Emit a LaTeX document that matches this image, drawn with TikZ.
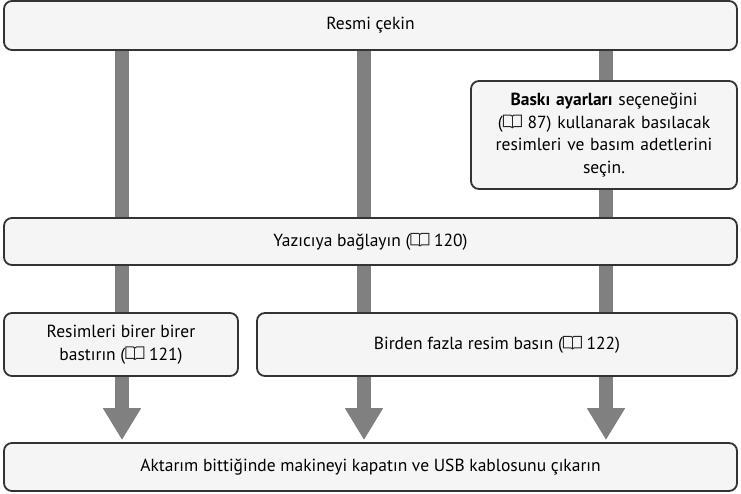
\documentclass[tikz,border=0pt]{standalone}
\usepackage{fontspec}
\setmainfont{PT Sans}
\usetikzlibrary{arrows.meta,backgrounds}
% small open-book sign used for page references
\newcommand{\kitap}{\tikz[baseline=-0.5pt,x=1.2pt,y=1.15pt,line width=1pt,sharp corners]{%
  \draw[black!85] (0,1) -- (0,11) -- (6,11) .. controls (7.2,11) .. (7.5,10) .. controls (7.8,11) .. (9,11) -- (15,11) -- (15,1) -- (9,1) .. controls (8,1) .. (7.5,0) .. controls (7,1) .. (6,1) -- cycle;
  \draw[black!85] (7.5,0.5) -- (7.5,10);}}
\begin{document}
\begin{tikzpicture}[x=1pt,y=-1pt,
    kutu/.style={draw=black!80,line width=1.8pt,fill=gray!8,rounded corners=8pt,
      inner sep=0pt,align=center,font=\fontsize{17.5}{22.5}\selectfont},
    ok/.style={draw=gray,line width=14pt,-{Triangle[width=36pt,length=32pt]},shorten >=2pt}]
  \useasboundingbox (0,0) rectangle (741,493);
  \coordinate (s1) at (122,0);
  \coordinate (s2) at (364,0);
  \coordinate (s3) at (606,0);
  \node[kutu,minimum width=733pt,minimum height=49pt] (cek) at (370.5,25.5) {Resmi çekin};
  \node[kutu,minimum width=266pt,minimum height=108pt,text width=260pt] (bask) at (604,135)
    {\textbf{Baskı ayarları} seçeneğini\\(\kitap{} 87) kullanarak basılacak\\resimleri ve basım adetlerini\\seçin.};
  \node[kutu,minimum width=733pt,minimum height=47pt] (yaz) at (370.5,241.5) {Yazıcıya bağlayın (\kitap{} 120)};
  \node[kutu,minimum width=234pt,minimum height=63pt] (tek) at (121,344.5) {Resimleri birer birer\\bastırın (\kitap{} 121)};
  \node[kutu,minimum width=480pt,minimum height=63pt] (cok) at (497,344.5) {Birden fazla resim basın (\kitap{} 122)};
  \node[kutu,minimum width=733pt,minimum height=48pt] (akt) at (370.5,467) {Aktarım bittiğinde makineyi kapatın ve USB kablosunu çıkarın};
  \begin{scope}[on background layer]
    \draw[ok] (cek.south -| s1) -- (akt.north -| s1);
    \draw[ok] (cek.south -| s2) -- (akt.north -| s2);
    \draw[ok] (cek.south -| s3) -- (akt.north -| s3);
  \end{scope}
\end{tikzpicture}
\end{document}
